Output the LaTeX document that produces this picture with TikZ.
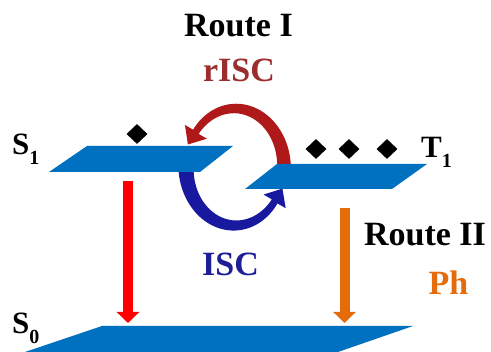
\documentclass[tikz,border=0pt]{standalone}
\usepackage{fontspec}
\setmainfont{Liberation Serif}
\usetikzlibrary{arrows.meta,shapes.geometric}
\definecolor{planeblue}{RGB}{0,112,192}
\definecolor{arrred}{RGB}{255,0,0}
\definecolor{arrorange}{RGB}{228,108,10}
\definecolor{risccol}{RGB}{155,45,45}
\definecolor{isccol}{RGB}{30,30,150}
\definecolor{redarc}{RGB}{175,25,25}
\definecolor{bluearc}{RGB}{25,25,160}
\newcommand{\lvlab}[2]{#1\raisebox{-10pt}{\fontsize{20}{20}\selectfont #2}}
\begin{document}
\begin{tikzpicture}[x=1pt,y=-1pt,
  txt/.style={font=\fontsize{34}{34}\selectfont\bfseries, inner sep=0pt, anchor=base},
  lvl/.style={font=\fontsize{31}{31}\selectfont\bfseries, inner sep=0pt, anchor=base west},
  plane/.style={fill=planeblue},
  varrow/.style={line width=10pt, -{Triangle[width=22pt,length=11pt]}},
  dot/.style={diamond, fill=black, inner sep=0pt, minimum width=21pt, minimum height=20pt}]
\useasboundingbox (0,0) rectangle (491,352);

% curved arrows
\fill[redarc] plot[domain=10:-143,samples=60] ({235+(49+(7+7*(\x+143)/148)/2)*cos(\x)},{167+(58.5+(7+7*(\x+143)/148)/2)*sin(\x)})
  -- (184.9,124.9) -- (187.9,144.5) -- (206.9,138.7)
  -- plot[domain=-143:10,samples=60] ({235+(49-(7+7*(\x+143)/148)/2)*cos(\x)},{167+(58.5-(7+7*(\x+143)/148)/2)*sin(\x)}) -- cycle;
\fill[bluearc] plot[domain=190:36,samples=60] ({235+(49+(7+8*(\x-36)/139)/2)*cos(\x)},{167+(58.5+(7+8*(\x-36)/139)/2)*sin(\x)})
  -- (285.7,208.2) -- (282.4,188.6) -- (263.5,194.6)
  -- plot[domain=36:190,samples=60] ({235+(49-(7+8*(\x-36)/139)/2)*cos(\x)},{167+(58.5-(7+8*(\x-36)/139)/2)*sin(\x)}) -- cycle;

% planes
\fill[plane] (49,172) -- (87,146) -- (233,146) -- (200,172) -- cycle;
\fill[plane] (245,189) -- (277,164) -- (427,164) -- (392,189) -- cycle;
\fill[plane] (25,352) -- (102,326) -- (413,326) -- (338,352) -- cycle;

% vertical arrows
\coordinate (s1out) at (128,181);
\coordinate (s0inA) at (128,323);
\coordinate (t1out) at (344.5,208);
\coordinate (s0inB) at (344.5,323);
\draw[varrow, arrred] (s1out) -- (s0inA);
\draw[varrow, arrorange] (t1out) -- (s0inB);

% diamonds
\node[dot] (d0) at (137,134) {};
\node[dot] (d1) at (316,149) {};
\node[dot] (d2) at (349,149) {};
\node[dot] (d3) at (387,149) {};

% labels
\node[lvl] (s1) at (12,155) {\lvlab{S}{1}};
\node[lvl] (t1) at (421,158) {\lvlab{T}{1}};
\node[lvl] (s0) at (12,334) {\lvlab{S}{0}};
\node[txt] (r1) at (238.5,37) {Route I};
\node[txt, text=risccol] (risc) at (239,82) {rISC};
\node[txt, text=isccol] (isc) at (230.5,276) {ISC};
\node[txt] (r2) at (425,246) {Route II};
\node[txt, text=arrorange] (ph) at (448.5,295) {Ph};
\end{tikzpicture}
\end{document}
